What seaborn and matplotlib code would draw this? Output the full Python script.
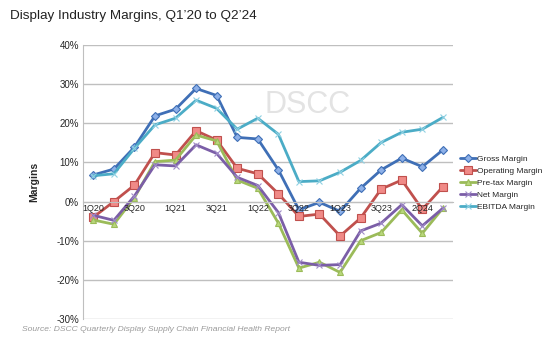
import matplotlib
matplotlib.use("Agg")
import matplotlib.pyplot as plt
import seaborn as sns
import pandas as pd
import numpy as np

quarters = ["1Q20","2Q20","3Q20","4Q20","1Q21","2Q21","3Q21","4Q21","1Q22","2Q22",
            "3Q22","4Q22","1Q23","2Q23","3Q23","4Q23","1Q24","2Q24"]
tick_labels = ["1Q20","3Q20","1Q21","3Q21","1Q22","3Q22","1Q23","3Q23","2Q24"]

gross     = [6.8, 8.3, 13.9, 21.9, 23.6, 28.9, 27.1, 16.4, 16.0, 8.1, -2.1, -0.2, -2.5, 3.4, 8.1, 11.1, 8.9, 13.2]
operating = [-4.0, 0.0, 4.2, 12.5, 11.9, 18.1, 15.7, 8.5, 7.1, 2.0, -3.8, -3.2, -8.8, -4.2, 3.2, 5.5, -2.0, 3.8]
pretax    = [-4.7, -5.8, 1.0, 10.2, 10.6, 17.0, 15.5, 5.5, 3.4, -5.5, -17.0, -15.5, -18.1, -10.0, -7.9, -2.1, -8.1, -1.7]
net       = [-3.5, -4.8, 1.4, 9.4, 9.1, 14.5, 12.3, 6.2, 4.1, -2.8, -15.5, -16.3, -16.1, -7.5, -5.5, -0.8, -6.2, -1.7]
ebitda    = [6.6, 7.1, 13.6, 19.6, 21.3, 25.9, 23.8, 18.5, 21.3, 17.2, 5.1, 5.3, 7.5, 10.5, 15.1, 17.7, 18.5, 21.5]

series_names = ["Gross Margin","Operating Margin","Pre-tax Margin","Net Margin","EBITDA Margin"]
series_vals = [gross, operating, pretax, net, ebitda]
colors = ["#3F6FB6", "#C0504D", "#9BBB59", "#7B5EA7", "#4BACC6"]
mfaces = ["#8DB0E8", "#F08A87", "#B8D77A", "#A08CC8", "#8FD0E2"]
markers = ["D", "s", "^", "x", "x"]
msizes = [4, 5.5, 5, 4, 4]

rows = []
for name, vals in zip(series_names, series_vals):
    for i, v in enumerate(vals):
        rows.append({"q": i, "val": v, "series": name})
df = pd.DataFrame(rows)

sns.set_style("white")
plt.rcParams['font.family'] = ['Liberation Sans', 'DejaVu Sans']

fig = plt.figure(figsize=(5.54, 3.40), dpi=100)
ax = fig.add_axes([0.1498, 0.0618, 0.818 - 0.1498, 0.8676 - 0.0618])

for s in ["top", "right"]:
    ax.spines[s].set_visible(False)
ax.spines["left"].set_color("#BFBFBF")
ax.spines["bottom"].set_position(("data", 0))
ax.spines["bottom"].set_color("#BFBFBF")

for name, c, mf, m, ms in zip(series_names, colors, mfaces, markers, msizes):
    sub = df[df["series"] == name]
    sns.lineplot(data=sub, x="q", y="val", ax=ax, color=c, linewidth=2.0,
                 marker=m, markersize=ms, markerfacecolor=mf, markeredgecolor=c if m != "x" else mf,
                 markeredgewidth=0.8, label=name, sort=False)

ax.set_xlim(-0.5, len(quarters) - 0.5)
ax.set_ylim(-30, 40)
ax.set_yticks(np.arange(-30, 41, 10))
ax.set_yticklabels([f"{v}%" for v in range(-30, 41, 10)], fontsize=7)
ax.set_xticks(list(range(0, 18, 2)))
ax.set_xticklabels(tick_labels, fontsize=6.5)
ax.tick_params(axis="both", length=0, pad=3)
ax.tick_params(axis="x", pad=2, labelsize=6.5)
ax.grid(axis="y", color="#BFBFBF", linewidth=1.0)
ax.set_axisbelow(True)
ax.xaxis.set_zorder(3)
ax.set_xlabel("")
ax.set_ylabel("Margins", fontsize=7.5, fontweight="bold", labelpad=12)

# watermark
ax.text(0.49, 0.78, "DSCC", transform=ax.transAxes, fontsize=22, color="#E3E3E3",
        ha="left", va="center", zorder=0)

leg = ax.legend(loc="upper left", bbox_to_anchor=(1.01, 0.61), frameon=False,
                fontsize=6, handlelength=1.9, handletextpad=0.1, labelspacing=0.5,
                borderaxespad=0)

fig.text(0.018, 0.935, "Display Industry Margins, Q1\u201920 to Q2\u201924", fontsize=9.7,
         color="#222222", ha="left", va="bottom")
fig.text(0.04, 0.02, "Source: DSCC Quarterly Display Supply Chain Financial Health Report",
         fontsize=6.1, color="#9A9A9A", style="italic", ha="left", va="bottom")

fig.savefig("out.png", dpi=100)
